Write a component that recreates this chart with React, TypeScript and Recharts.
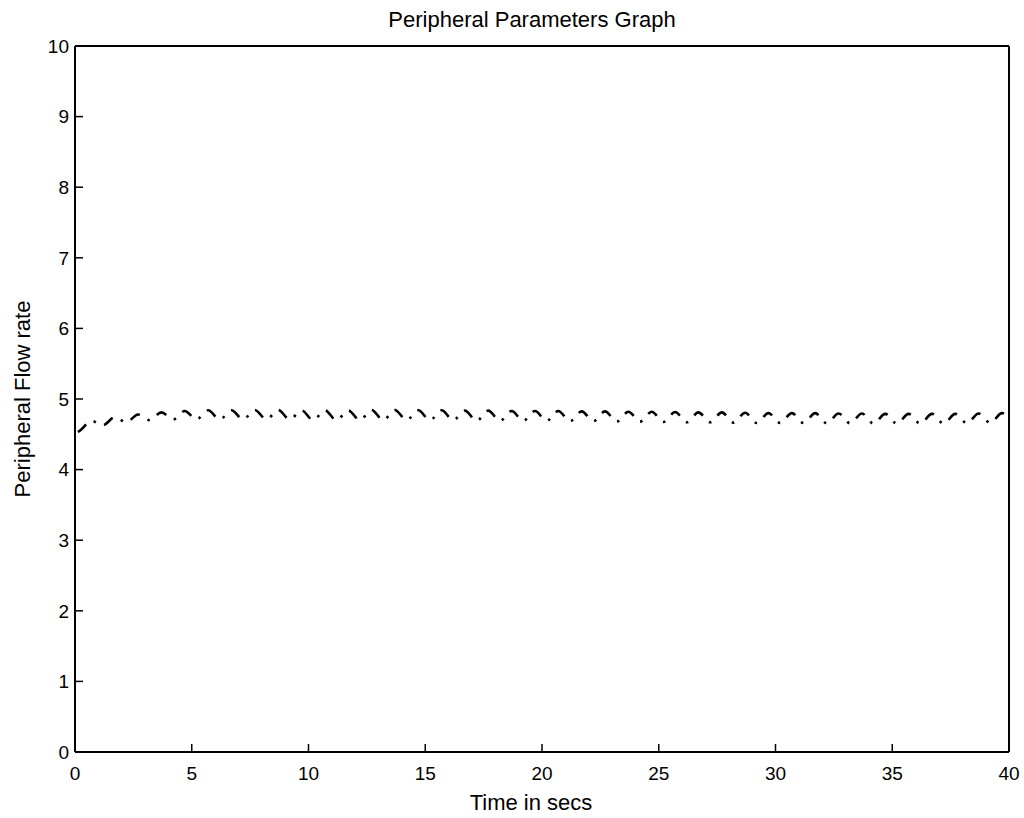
import { LineChart, Line, XAxis, YAxis } from "recharts"

// time samples (s): start, then trough / peak of each beat, then end
const time = [
  0, 0.2, 0.7, 1.2, 1.7, 2.2, 2.7, 3.2, 3.7, 4.2, 4.7, 5.2, 5.7, 6.2, 6.7, 7.2, 7.7, 8.2, 8.7, 9.2, 9.7,
  10.2, 10.7, 11.2, 11.7, 12.2, 12.7, 13.2, 13.7, 14.2, 14.7, 15.2, 15.7, 16.2, 16.7, 17.2, 17.7, 18.2, 18.7,
  19.2, 19.7, 20.2, 20.7, 21.2, 21.7, 22.2, 22.7, 23.2, 23.7, 24.2, 24.7, 25.2, 25.7, 26.2, 26.7, 27.2, 27.7,
  28.2, 28.7, 29.2, 29.7, 30.2, 30.7, 31.2, 31.7, 32.2, 32.7, 33.2, 33.7, 34.2, 34.7, 35.2, 35.7, 36.2, 36.7,
  37.2, 37.7, 38.2, 38.7, 39.2, 39.7, 40,
]

const flow = [
  4.52, 4.55, 4.69, 4.63, 4.74, 4.67, 4.78, 4.7, 4.81, 4.71, 4.83, 4.71, 4.84, 4.71, 4.84, 4.71, 4.845, 4.71, 4.845,
  4.71, 4.84, 4.7, 4.84, 4.7, 4.84, 4.7, 4.845, 4.7, 4.845, 4.7, 4.84, 4.7, 4.84, 4.7, 4.835, 4.69, 4.835, 4.69,
  4.83, 4.69, 4.83, 4.69, 4.83, 4.685, 4.825, 4.685, 4.825, 4.68, 4.82, 4.68, 4.82, 4.675, 4.815, 4.67, 4.81, 4.67,
  4.81, 4.665, 4.805, 4.66, 4.8, 4.66, 4.8, 4.66, 4.8, 4.655, 4.795, 4.655, 4.795, 4.65, 4.79, 4.65, 4.79, 4.65,
  4.79, 4.65, 4.79, 4.655, 4.795, 4.66, 4.8, 4.73,
]

const xTicks = [0, 5, 10, 15, 20, 25, 30, 35, 40]
const yTicks = [0, 1, 2, 3, 4, 5, 6, 7, 8, 9, 10]

const FONT = "'Liberation Sans', Arial, Helvetica, sans-serif"
const tickStyle = { fill: "#000", fontSize: 19, fontFamily: FONT }
const axisLine = { stroke: "#000", strokeWidth: 2 }
const tickLine = { stroke: "#000", strokeWidth: 1.5 }

export default function App() {
  const data = time.map((t, i) => ({ t, flow: flow[i] }))

  return (
    <div style={{ position: "absolute", left: 0, top: 0, width: 1024, height: 818, background: "#fff" }}>
      <div
        style={{
          position: "absolute",
          left: 0,
          top: 9,
          width: 1064,
          textAlign: "center",
          fontFamily: FONT,
          fontSize: 22,
          lineHeight: "22px",
          color: "#000",
        }}
      >
        Peripheral Parameters Graph
      </div>
      <LineChart width={1024} height={818} data={data} margin={{ top: 16, right: 0, bottom: 0, left: 0 }}>
        <XAxis
          xAxisId="bottom"
          dataKey="t"
          type="number"
          domain={[0, 40]}
          ticks={xTicks}
          interval={0}
          height={66}
          axisLine={axisLine}
          tickLine={tickLine}
          tickSize={-8}
          tickMargin={23}
          tick={tickStyle}
          label={{
            value: "Time in secs",
            position: "insideBottom",
            offset: 8,
            dx: -11,
            style: { fill: "#000", fontSize: 22, fontFamily: FONT },
          }}
        />
        <XAxis
          xAxisId="top"
          orientation="top"
          dataKey="t"
          type="number"
          domain={[0, 40]}
          ticks={xTicks}
          interval={0}
          height={30}
          axisLine={axisLine}
          tickLine={tickLine}
          tickSize={-8}
          tick={false}
        />
        <YAxis
          yAxisId="left"
          type="number"
          domain={[0, 10]}
          ticks={yTicks}
          interval={0}
          width={75}
          axisLine={axisLine}
          tickLine={tickLine}
          tickSize={-8}
          tickMargin={14}
          tick={tickStyle}
          label={{
            value: "Peripheral Flow rate",
            angle: -90,
            position: "insideLeft",
            offset: 22,
            style: { textAnchor: "middle", fill: "#000", fontSize: 22, fontFamily: FONT },
          }}
        />
        <YAxis
          yAxisId="right"
          orientation="right"
          type="number"
          domain={[0, 10]}
          ticks={yTicks}
          interval={0}
          width={15}
          axisLine={axisLine}
          tickLine={tickLine}
          tickSize={-8}
          tick={false}
        />
        <Line
          xAxisId="top"
          yAxisId="right"
          dataKey="flow"
          stroke="none"
          dot={false}
          activeDot={false}
          legendType="none"
          isAnimationActive={false}
        />
        <Line
          xAxisId="bottom"
          yAxisId="left"
          type="monotone"
          dataKey="flow"
          stroke="#000"
          strokeWidth={2.6}
          strokeDasharray="11 8.8 2.5 8.8"
          strokeDashoffset={28}
          dot={false}
          activeDot={false}
          isAnimationActive={false}
        />
      </LineChart>
    </div>
  )
}
